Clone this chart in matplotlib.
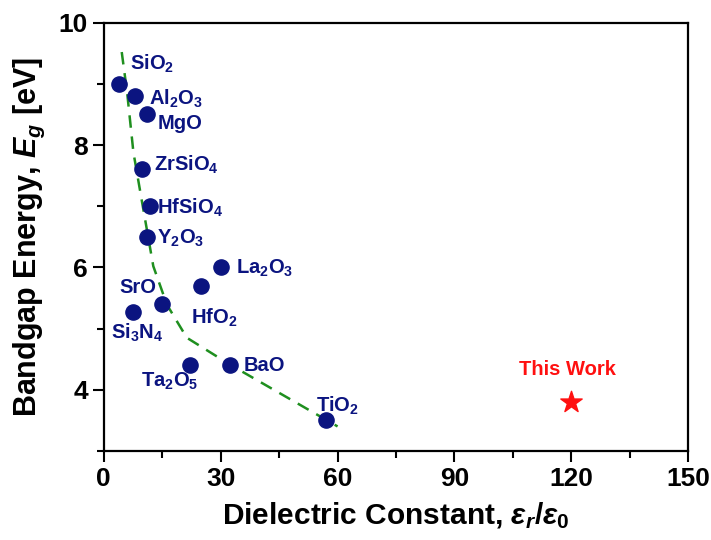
import matplotlib.pyplot as plt
from matplotlib.ticker import MultipleLocator

plt.rcParams['font.family'] = ['Liberation Sans', 'DejaVu Sans']
plt.rcParams['mathtext.fontset'] = 'custom'
plt.rcParams['mathtext.rm'] = 'Liberation Sans:bold'
plt.rcParams['mathtext.it'] = 'Liberation Sans:bold:italic'
plt.rcParams['mathtext.bf'] = 'Liberation Sans:bold'

# oxide data: dielectric constant vs bandgap
names = ['SiO$_2$', 'Al$_2$O$_3$', 'MgO', 'ZrSiO$_4$', 'HfSiO$_4$', 'Y$_2$O$_3$',
         'La$_2$O$_3$', 'HfO$_2$', 'SrO', 'Si$_3$N$_4$', 'Ta$_2$O$_5$', 'BaO', 'TiO$_2$']
k = [3.9, 8.0, 11.0, 9.7, 11.8, 11.0, 30.0, 25.0, 15.0, 7.5, 22.0, 32.4, 57.0]
eg = [9.0, 8.8, 8.5, 7.6, 7.0, 6.5, 6.0, 5.7, 5.4, 5.27, 4.4, 4.4, 3.5]

# label anchor (left edge, vertical centre)
lab_x = [6.8, 11.5, 13.8, 13.0, 13.6, 13.6, 34.0, 22.5, 4.0, 1.8, 9.5, 36.0, 54.5]
lab_y = [9.33, 8.76, 8.36, 7.68, 6.98, 6.48, 5.98, 5.18, 5.67, 4.93, 4.13, 4.4, 3.73]

# guide-to-the-eye trend
trend_k = [4.6, 6.0, 7.6, 10.0, 12.7, 16.2, 21.3, 32.4, 60.0]
trend_eg = [9.52, 8.85, 7.88, 7.0, 6.02, 5.39, 4.85, 4.41, 3.4]

this_k = [120]
this_eg = [3.8]

navy = '#0b1480'

fig = plt.figure(figsize=(7.11, 5.40), dpi=100)
ax = fig.add_axes([0.146, 0.165, 0.822, 0.793])

ax.plot(trend_k, trend_eg, '--', color='#1f8f1f', lw=1.8, dashes=(5, 3.5), zorder=1)
ax.scatter(k, eg, s=120, color=navy, zorder=3)
ax.scatter(this_k, this_eg, s=260, marker='*', color='#ff1010', zorder=3)

for n, x, y in zip(names, lab_x, lab_y):
    ax.text(x, y, n, color=navy, fontsize=14.5, fontweight='bold', ha='left', va='center')
ax.text(119, 4.33, 'This Work', color='#ff1010', fontsize=14.5, fontweight='bold',
        ha='center', va='center')

ax.set_xlim(0, 150)
ax.set_ylim(3, 10)
ax.xaxis.set_major_locator(MultipleLocator(30))
ax.xaxis.set_minor_locator(MultipleLocator(15))
ax.yaxis.set_major_locator(MultipleLocator(2))
ax.yaxis.set_minor_locator(MultipleLocator(1))
ax.tick_params(which='both', direction='out', width=1.5, top=False, right=False,
               labelsize=19)
ax.tick_params(which='major', length=8)
ax.tick_params(which='minor', length=5)
for lab in ax.get_xticklabels() + ax.get_yticklabels():
    lab.set_fontweight('bold')
for s in ax.spines.values():
    s.set_linewidth(1.6)

ax.set_xlabel(r'Dielectric Constant, $\varepsilon_r/\varepsilon_0$', fontsize=21.5,
              fontweight='bold', labelpad=7)
ax.set_ylabel(r'Bandgap Energy, $E_g$ [eV]', fontsize=22, fontweight='bold', labelpad=8)

fig.savefig('out.png', dpi=100)
